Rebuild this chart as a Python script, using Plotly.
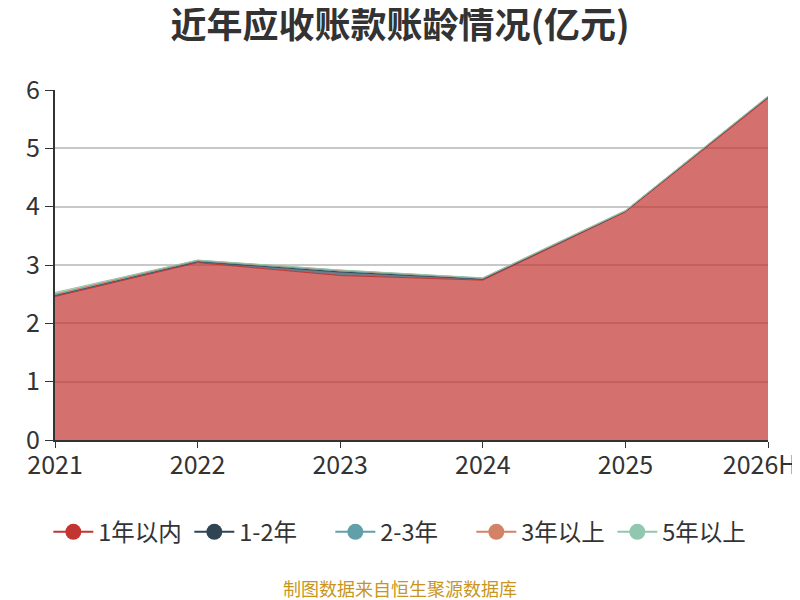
import plotly.graph_objects as go

# данные
years = ['2021', '2022', '2023', '2024', '2025', '2026H']
names = ['1年以内', '1-2年', '2-3年', '3年以上', '5年以上']
within_1y = [2.46, 3.04, 2.82, 2.74, 3.91, 5.86]
y1_2 = [0.02, 0.02, 0.06, 0.02, 0.01, 0.02]
y2_3 = [0.01, 0.01, 0.02, 0.01, 0.005, 0.005]
over_3y = [0.01, 0.01, 0.01, 0.005, 0.005, 0.005]
over_5y = [0.03, 0.005, 0.005, 0.005, 0.005, 0.005]
series = [within_1y, y1_2, y2_3, over_3y, over_5y]
colors = ['#c23531', '#2f4554', '#61a0a8', '#d48265', '#91c7ae']


def rgba(hex_color, a):
    h = hex_color.lstrip('#')
    r, g, b = int(h[0:2], 16), int(h[2:4], 16), int(h[4:6], 16)
    return 'rgba(%d,%d,%d,%s)' % (r, g, b, a)


fig = go.Figure()
for name, vals, c in zip(names, series, colors):
    fig.add_trace(go.Scatter(
        x=years, y=vals, name=name, mode='lines',
        stackgroup='one',
        line=dict(color=c, width=1),
        fillcolor=rgba(c, 0.7),
        showlegend=False, hoverinfo='x+y+name'))

# легенда
for name, c in zip(names, colors):
    fig.add_trace(go.Scatter(
        x=[None], y=[None], name=name, mode='lines+markers',
        line=dict(color=c, width=2),
        marker=dict(color=c, size=24)))

# последняя подпись сдвинута влево, чтобы поместилась
tick_text = years[:-1] + [years[-1] + '\u00a0\u00a0\u00a0']

# страница сдвинута на 8px (отступ body), поэтому размеры 792x592
fig.update_layout(
    width=792, height=592,
    paper_bgcolor='white', plot_bgcolor='white',
    font=dict(family='Noto Sans CJK SC, sans-serif', color='#333'),
    title=dict(text='<b>近年应收账款账龄情况(亿元)</b>', x=0.495, xanchor='center',
               y=0.971, yanchor='middle', font=dict(size=36, color='#333')),
    margin=dict(l=47, r=32, t=82, b=160, autoexpand=False),
    showlegend=True,
    legend=dict(orientation='h', xref='container', x=0.496, xanchor='center',
                y=-0.263, yanchor='middle',
                font=dict(size=23.5, color='#333'), itemwidth=40,
                entrywidth=86, traceorder='normal'),
    xaxis=dict(type='category', range=[0, 5], showgrid=False,
               showline=True, linecolor='#333', linewidth=1.5,
               ticks='outside', ticklen=6, tickcolor='#333',
               ticklabelstandoff=-4,
               tickvals=years, ticktext=tick_text,
               tickfont=dict(size=25, color='#333')),
    yaxis=dict(range=[0, 6], dtick=1, showgrid=True, gridcolor='#c8c8c8', gridwidth=1.5,
               showline=True, linecolor='#333', linewidth=2,
               ticks='outside', ticklen=8, tickcolor='#333', zeroline=False,
               tickfont=dict(size=25, color='#333')),
    annotations=[
        dict(text='制图数据来自恒生聚源数据库', xref='paper', yref='paper',
             x=0.484, y=-0.423, xanchor='center', yanchor='middle', showarrow=False,
             font=dict(size=18, color='#c8961e')),
        dict(text='亿元', xref='paper', yref='paper', x=-0.0617, xanchor='right',
             y=0.929, yanchor='middle', textangle=-90, showarrow=False,
             font=dict(size=14, color='red')),
    ])

fig.write_html('out.html')
